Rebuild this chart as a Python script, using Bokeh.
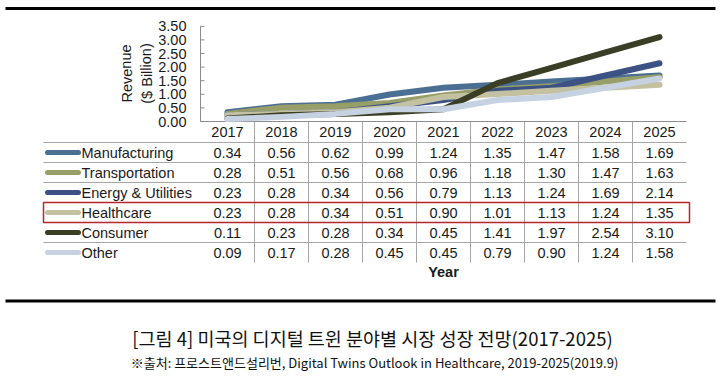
from bokeh.plotting import figure
from bokeh.models import Range1d
from bokeh.embed import file_html
from bokeh.resources import INLINE
from bokeh.core.properties import value

# ---------------- data ----------------
years = [2017, 2018, 2019, 2020, 2021, 2022, 2023, 2024, 2025]
series_names = ["Manufacturing", "Transportation", "Energy & Utilities",
                "Healthcare", "Consumer", "Other"]
manufacturing = [0.34, 0.56, 0.62, 0.99, 1.24, 1.35, 1.47, 1.58, 1.69]
transportation = [0.28, 0.51, 0.56, 0.68, 0.96, 1.18, 1.30, 1.47, 1.63]
energy_utilities = [0.23, 0.28, 0.34, 0.56, 0.79, 1.13, 1.24, 1.69, 2.14]
healthcare = [0.23, 0.28, 0.34, 0.51, 0.90, 1.01, 1.13, 1.24, 1.35]
consumer = [0.11, 0.23, 0.28, 0.34, 0.45, 1.41, 1.97, 2.54, 3.10]
other = [0.09, 0.17, 0.28, 0.45, 0.45, 0.79, 0.90, 1.24, 1.58]
series_values = [manufacturing, transportation, energy_utilities, healthcare, consumer, other]
y_ticks = [0.0, 0.5, 1.0, 1.5, 2.0, 2.5, 3.0, 3.5]
y_title = ["Revenue", "($ Billion)"]
x_title = "Year"
highlight = "Healthcare"
caption = "[그림 4] 미국의 디지털 트윈 분야별 시장 성장 전망(2017-2025)"
source = "※출처: 프로스트앤드설리번, Digital Twins Outlook in Healthcare, 2019-2025(2019.9)"

# ---------------- style / layout ----------------
colors = ["#4b6f92", "#979e68", "#3d5284", "#c3c1a1", "#3a3e25", "#c6d2e1"]
W, H = 724, 377
X0, DX = 227, 54          # pixel of first year, pixel per year
Y0, SY = 121, 27.2        # pixel of value 0, pixel per unit
FONT = value("Liberation Sans")
KFONT = value("Noto Sans CJK KR")
FS = "14.5px"

p = figure(width=W, height=H,
           x_range=Range1d(years[0] - X0 / DX, years[0] + (W - X0) / DX),
           y_range=Range1d(-(H - Y0) / SY, Y0 / SY),
           output_backend="svg", toolbar_location=None,
           x_axis_location=None, y_axis_location=None, min_border=0)
p.extra_x_ranges = {"px": Range1d(0, W)}
p.extra_y_ranges = {"px": Range1d(H, 0)}
p.grid.visible = False
p.outline_line_color = None
p.background_fill_color = "white"
p.border_fill_color = "white"

grid_col = "#a6a6a6"
axis_col = "#8c8c8c"

# top and bottom rules
p.segment(x0=[5, 5], y0=[8, 300.5], x1=[715, 715], y1=[8, 300.5],
          x_range_name="px", y_range_name="px", line_color="black", line_width=3)

# y axis line, ticks, labels
left = years[0] - 0.5
right = years[-1] + 0.5
p.segment(x0=[left], y0=[y_ticks[0]], x1=[left], y1=[y_ticks[-1]],
          line_color=axis_col, line_width=1)
p.segment(x0=[200] * len(y_ticks), y0=y_ticks, x1=[204] * len(y_ticks), y1=y_ticks,
          x_range_name="px", line_color=axis_col, line_width=1)
p.text(x=[186] * len(y_ticks), y=y_ticks, text=[f"{t:.2f}" for t in y_ticks],
       x_range_name="px", text_align="right", text_baseline="middle",
       text_font=FONT, text_font_size=FS, text_color="#1a1a1a")
# y title (rotated, two lines)
p.text(x=[126, 146], y=[73, 73], text=y_title, x_range_name="px", y_range_name="px",
       angle=1.5708, text_align="center", text_baseline="middle",
       text_font=FONT, text_font_size=FS, text_color="#1a1a1a")

# x axis baseline
p.segment(x0=[left], y0=[0], x1=[right], y1=[0], line_color=axis_col, line_width=1)

# table grid
row_c = [152 + 20 * r for r in range(len(series_names))]
hl = [142 + 20 * r for r in range(len(series_names))]
p.segment(x0=[43] * len(hl), y0=hl, x1=[686] * len(hl), y1=hl,
          x_range_name="px", y_range_name="px", line_color=grid_col, line_width=1)
vx = [y + 0.5 for y in years[:-1]]
p.segment(x0=vx, y0=[121] * len(vx), x1=vx, y1=[262] * len(vx),
          y_range_name="px", line_color=grid_col, line_width=1)

# header years
p.text(x=years, y=[131] * len(years), text=[str(y) for y in years],
       y_range_name="px", text_align="center", text_baseline="middle",
       text_font=FONT, text_font_size=FS, text_color="#1a1a1a")

# lines, legend keys, table values
for name, vals, col, rc in zip(series_names, series_values, colors, row_c):
    p.line(years, vals, line_color=col, line_width=6, line_cap="round", line_join="round")
    p.segment(x0=[47], y0=[rc], x1=[78], y1=[rc], x_range_name="px", y_range_name="px",
              line_color=col, line_width=5, line_cap="round")
    p.text(x=[81], y=[rc], text=[name], x_range_name="px", y_range_name="px",
           text_align="left", text_baseline="middle",
           text_font=FONT, text_font_size=FS, text_color="#1a1a1a")
    p.text(x=years, y=[rc] * len(years), text=[f"{v:.2f}" for v in vals],
           y_range_name="px", text_align="center", text_baseline="middle",
           text_font=FONT, text_font_size=FS, text_color="#1a1a1a")

# highlight box
hr = row_c[series_names.index(highlight)]
p.quad(left=[43], right=[689], top=[hr - 10], bottom=[hr + 10],
       x_range_name="px", y_range_name="px", fill_color=None,
       line_color="#b3262c", line_width=1.5)

# x title
p.text(x=[443], y=[271], text=[x_title], x_range_name="px", y_range_name="px",
       text_align="center", text_baseline="middle", text_font=FONT,
       text_font_size=FS, text_font_style="bold", text_color="#1a1a1a")

# caption and source
p.text(x=[372], y=[337], text=[caption], x_range_name="px", y_range_name="px",
       text_align="center", text_baseline="middle", text_font=KFONT,
       text_font_size="18.5px", text_color="#111111")
p.text(x=[374], y=[362], text=[source], x_range_name="px", y_range_name="px",
       text_align="center", text_baseline="middle", text_font=KFONT,
       text_font_size="13px", text_color="#111111")

open("out.html", "w").write(file_html(p, INLINE))
